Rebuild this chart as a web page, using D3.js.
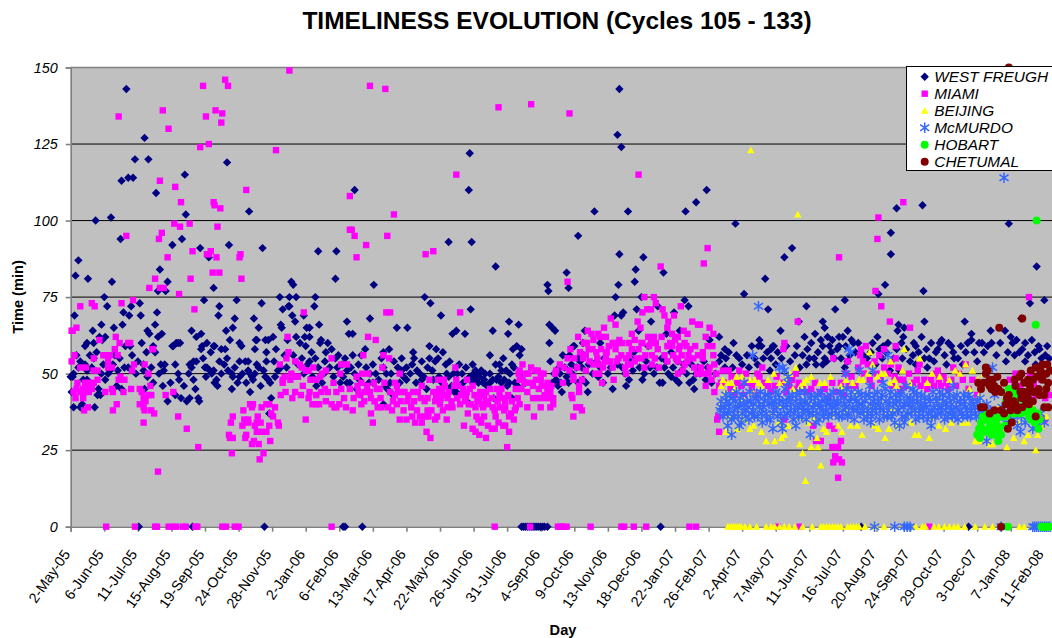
<!DOCTYPE html>
<html><head><meta charset="utf-8">
<script src="https://d3js.org/d3.v7.min.js"></script>
<style>html,body{margin:0;padding:0;background:#fff;overflow:hidden}svg{display:block}text{font-family:"Liberation Sans",Arial,sans-serif}</style>
</head><body><svg id="c" width="1052" height="638"></svg>
<script>
// [days since 2-May-05, minutes]
const westFreugh=[[58,143],[77,127],[67,120],[81,120],[53,113],[60,114],[65,114],[89,109],[119,115],[163,119],[120,102],[186,103],[26,100],[42,101],[52,94],[116,94],[106,92],[165,92],[135,91],[200,91],[144,88],[258,90],[277,90],[8,87],[5,82],[18,81],[93,84],[101,80],[43,80],[276,81],[230,80],[232,79],[149,78],[91,77],[99,77],[35,75],[218,75],[228,75],[235,75],[255,75],[38,72],[63,72],[72,73],[139,74],[173,74],[199,73],[155,72],[221,71],[227,72],[228,72],[254,72],[4,69],[55,70],[61,69],[73,69],[90,70],[154,69],[171,68],[191,68],[231,69],[234,67],[243,69],[32,66],[45,65],[54,66],[88,66],[169,65],[196,65],[219,66],[220,65],[246,65],[249,65],[259,66],[23,64],[80,64],[82,63],[95,63],[91,62],[126,64],[136,63],[131,62],[162,64],[288,67],
[6,56],[15,59],[17,60],[24,60],[10,54],[15,53],[17,51],[22,52],[0,49],[2,49],[1,44],[3,39],[10,39],[12,40],[25,39],[29,45],[28,43],[31,43],[13,48],[17,48],[24,55],[34,53],[39,50],[41,51],[46,56],[51,55],[49,51],[56,52],[64,56],[57,59],[62,59],[74,60],[79,57],[76,53],[76,51],[84,52],[86,59],[88,57],[94,53],[98,53],[97,51],[96,46],[77,45],[101,41],[109,43],[115,42],[121,41],[124,42],[134,41],[133,42],[130,45],[128,48],[123,50],[113,48],[112,50],[109,53],[106,59],[112,60],[124,53],[128,54],[131,54],[136,58],[142,60],[146,57],[149,59],[141,49],[142,52],[145,51],[149,51],[150,47],[153,46],[157,50],[160,53],[157,58],[161,58],[166,61],[164,51],[168,50],[169,49],[168,45],[176,54],[176,49],[178,59],[182,54],[185,54],[187,44],[185,51],[187,50],[189,49],[190,48],[194,53],[192,58],[201,51],[198,46],[208,47],[204,54],[204,57],[212,54],[214,58],[209,42],[207,37],[216,51],[223,56],[232,56],[239,60],[241,55],[245,59],[249,54],[251,57],[255,55],[260,60],[266,57],[265,54],[256,46],[262,47],[268,60],[274,49],[279,56],[281,47],[288,47],[288,51],[284,49],[272,58],[276,55],
[30,62],[36,62],[33,61],[107,59],[110,60],[114,60],[137,59],[150,59],[176,60],[193,61],[194,61],[203,61],[206,61],[211,62],[226,61],[235,62],[244,62],[249,62],[261,61],[290,63],
[572,143],[570,128],[574,124],[416,122],[415,110],[296,110],[546,103],[581,103],[641,103],[652,106],[529,95],[394,93],[418,93],[572,89],[597,88],[589,84],[517,83],[618,83],[443,85],[316,79],[497,79],[498,77],[519,78],[571,79],[588,80],[369,75],[568,75],[595,75],[640,74],[644,72],[375,73],[386,69],[417,71],[312,68],[457,67],[467,66],[340,65],[351,65],[567,69],[576,70],[574,69],[590,71],[605,67],[612,72],[629,70],[499,66],[502,65],[505,64],[402,64],[398,63],[411,63],[440,64],[456,63],[294,63],[536,64],[592,64],[621,63],[635,64],[499,60],[524,59],[534,60],[602,59],[307,58],[332,58],[374,59],[465,59],
[294,56],[315,53],[326,57],[345,55],[357,57],[358,55],[350,52],[345,51],[366,54],[381,58],[388,57],[383,55],[374,55],[395,54],[392,50],[408,50],[419,53],[422,51],[426,49],[432,50],[437,56],[447,53],[451,55],[454,51],[462,52],[430,47],[420,50],[421,48],[449,47],[444,48],[437,47],[461,58],[470,58],[468,56],[457,47],[460,42],[441,42],[413,41],[402,44],[371,45],[336,43],[326,40],[329,50],[334,50],[326,52],[312,50],[301,48],[291,47],[298,45],[330,45],[315,47],[343,47],[360,47],[366,48],[378,48],[395,45],[400,44],[399,50],[500,54],[513,56],[520,56],[522,53],[529,55],[531,54],[504,50],[506,48],[508,46],[512,44],[517,49],[529,47],[537,47],[539,44],[534,48],[525,59],[510,50],[552,60],[550,49],[555,47],[565,45],[579,46],[586,51],[598,50],[608,50],[617,47],[626,49],[637,51],[645,47],[650,45],[649,48],[626,57],[621,54],[633,54],[654,52],
[663,110],[693,99],[702,76],[724,81],[744,88],[752,91],[727,71],[767,72],[797,71],[807,74],[759,67],[784,67],[786,65],[861,104],[888,105],[855,96],[855,89],[849,79],[889,77],[842,76],[863,66],[869,65],[890,67],[862,64],[932,67],[978,99],[1007,85],[1000,73],[1015,74],[991,68],[676,62],[718,61],[740,64],[765,62],[776,63],[789,62],[794,61],[801,62],[805,62],[810,64],[814,61],[816,60],[836,60],[868,62],[908,61],[906,60],[939,63],[939,61],[950,60],[960,60],[959,64],[974,64],[980,62],[986,61],[982,60],[995,60],[1009,59],[1018,59],[928,59],[666,61],[682,58],[720,59],[732,59],[784,59],[791,59],[847,59],[892,58],
[717,59],[730,58],[733,59],[694,56],[683,55],[676,54],[705,56],[682,52],[662,48],[668,47],[690,52],[767,53],[784,53],[788,54],[760,52],[770,55],[777,53],[735,53],[730,55],[713,55],[793,57],[801,59],[810,54],[843,58],[839,53],[808,59],[867,55],[878,56],[881,59],[895,55],[902,57],[918,59],[933,57],[921,55],[947,60],[975,54],[995,54],[1005,57],[1010,58],[1006,53],[989,57],[881,53],[893,52],[864,51],[854,51],[913,53],
[3,50],[8,52],[20,56],[27,57],[32,50],[36,48],[44,53],[48,46],[53,45],[60,52],[68,50],[70,54],[80,49],[86,47],[92,50],[104,47],[118,46],[126,52],[138,55],[140,52],[147,50],[152,48],[155,54],[163,55],[171,52],[174,47],[179,50],[183,47],[192,50],[196,52],[203,49],[206,48],[213,49],[219,52],[225,52],[237,53],[243,50],[247,53],[252,49],[258,52],[264,50],[270,52],[278,52],[283,53],[286,55],[292,52],[296,50],[300,53],[303,56],[308,52],[311,47],[318,50],[321,48],[324,55],[328,46],[333,47],[337,54],[341,52],[347,49],[350,48],[354,50],[356,53],[361,51],[364,50],[368,49],[372,52],[377,51],[380,54],[384,49],[387,47],[391,53],[394,49],[397,46],[403,50],[405,53],[409,47],[412,52],[416,49],[419,47],[423,50],[425,47],[428,51],[431,48],[434,46],[437,50],[440,48],[443,53],[446,49],[449,51],[452,48],[455,46],[458,50],[460,53],[463,47],[466,46],[470,50],[474,47],[502,47],[509,52],[511,47],[515,52],[519,47],[523,50],[527,52],[533,52],[535,56],[540,53],[544,50],[548,54],[552,52],[556,55],[560,50],[563,52],[570,53],[575,52],[578,50],[582,48],[584,55],[587,57],[593,52],[596,48],[600,54],[604,52],[611,52],[614,47],[616,55],[619,52],[623,50],[628,52],[631,48],[634,47],[639,53],[642,50],[647,53],[652,50],[656,50],[660,54],[664,52],[672,50],[678,56],[686,57],[691,60],[697,55],[700,53],[707,52],[710,59],[716,53],[722,55],[726,57],[729,51],[737,57],[741,55],[746,59],[750,54],[755,56],[757,59],[763,56],[768,58],[772,60],[775,55],[779,57],[782,61],[786,55],[796,55],[799,58],[803,55],[807,52],[812,56],[818,57],[821,60],[826,56],[830,55],[834,57],[841,62],[846,55],[850,57],[852,60],[858,55],[861,58],[866,60],[871,58],[875,54],[879,60],[884,57],[887,62],[890,55],[897,60],[900,54],[904,58],[911,56],[915,60],[920,57],[925,55],[930,53],[935,60],[942,57],[945,54],[952,57],[956,59],[965,56],[969,60],[977,57],[984,56],[992,58],[998,56],[1002,61],[1012,55],[1016,56],[1020,55],
[71,0],[202,0],[127,0],[284,0],[286,0],[304,0],[470,0],[472,0],[474,0],[476,0],[478,0],[480,0],[482,0],[484,0],[486,0],[488,0],[490,0],[492,0],[494,0],[497,0],[615,0],[824,0],[936,0]];
const miami=[[50,134],[96,136],[102,130],[138,144],[141,134],[144,125],[135,124],[161,146],[164,144],[151,136],[158,135],[157,132],[228,149],[214,123],[93,113],[109,111],[115,106],[149,106],[150,105],[156,104],[183,110],[291,108],[291,97],[108,99],[114,98],[124,99],[153,98],[58,95],[95,96],[92,94],[127,90],[146,90],[142,89],[144,89],[101,88],[152,88],[176,88],[177,89],[125,81],[88,81],[148,83],[155,83],[178,81],[82,78],[93,78],[97,78],[113,76],[129,71],[65,74],[10,72],[22,73],[25,72],[53,73],[243,70],[1,64],[2,64],[6,65],[30,61],[47,62],[51,60],[60,60],[62,60],[46,58],[86,58],[226,62],
[1,54],[4,56],[10,52],[16,52],[24,51],[28,51],[24,55],[34,56],[37,56],[41,56],[39,54],[39,52],[43,52],[49,56],[66,53],[64,51],[52,49],[56,48],[50,48],[28,48],[7,47],[15,47],[19,47],[24,47],[6,45],[13,45],[18,45],[22,45],[3,44],[10,44],[15,44],[19,44],[5,42],[13,42],[36,44],[43,45],[44,44],[55,44],[63,45],[72,45],[74,44],[76,42],[83,46],[81,50],[77,53],[85,58],[81,43],[84,43],[78,41],[72,40],[48,40],[18,39],[14,38],[44,38],[76,39],[77,38],[84,38],[87,37],[76,34],[99,43],[107,44],[112,36],[121,32],[133,26],[91,18],
[165,30],[166,29],[169,29],[168,24],[167,34],[169,36],[180,38],[179,33],[182,29],[183,30],[181,35],[185,35],[185,34],[187,40],[190,40],[189,39],[192,33],[195,36],[194,31],[198,34],[194,34],[189,27],[191,28],[196,27],[197,22],[201,24],[199,39],[204,40],[207,40],[199,31],[204,31],[207,33],[208,28],[209,37],[211,36],[213,39],[216,34],[217,33],[219,43],[224,44],[221,47],[221,48],[223,49],[218,53],[225,55],[227,57],[229,48],[230,50],[234,54],[235,49],[237,49],[239,53],[241,52],[231,42],[234,44],[240,43],[242,46],[245,51],[248,51],[245,35],[248,42],[249,44],[250,48],[253,52],[252,40],[256,40],[259,40],[256,43],[256,48],[260,49],[262,50],[266,51],[261,44],[265,45],[268,44],[266,41],[272,55],[274,47],[281,50],[282,53],[288,53],[272,40],[277,39],[280,40],[275,39],[277,44],[282,45],[285,42],[287,39],[291,45],
[312,144],[328,143],[446,137],[480,138],[520,135],[402,115],[592,115],[337,102],[293,97],[296,95],[308,92],[330,95],[298,88],[370,89],[378,90],[518,80],[615,85],[329,70],[333,70],[406,70],[310,62],[318,61],
[598,75],[608,75],[610,73],[617,71],[619,69],[623,67],[622,65],[636,72],[629,69],[648,67],[654,66],[639,64],[643,63],[633,62],[627,63],[630,61],[596,70],[601,71],[605,71],[563,68],[568,66],[591,67],[594,65],[556,65],[585,63],[558,62],[588,61],[572,61],[550,63],[552,62],[539,64],[543,63],[529,62],[545,61],[535,60],[538,60],[561,59],[565,60],[570,60],[582,60],[596,60],[602,62],[608,62],[605,60],[610,60],[622,59],[627,59],[635,59],[642,59],[651,59],
[294,38],[303,40],[313,37],[315,34],[317,41],[320,39],[324,39],[331,39],[335,38],[340,40],[343,35],[350,35],[356,36],[359,34],[364,36],[366,34],[369,36],[373,36],[371,31],[375,29],[380,35],[382,36],[392,35],[376,38],[380,41],[385,40],[388,38],[393,39],[398,39],[410,33],[419,32],[422,31],[426,30],[433,29],[423,36],[425,35],[431,36],[428,34],[435,33],[439,32],[442,32],[443,36],[446,34],[451,33],[453,33],[457,31],[455,26],[430,39],[440,39],[447,39],[453,39],[457,36],[459,37],[463,38],[464,39],[468,40],[476,39],[483,36],[490,39],[500,39],[503,40],[487,42],[493,42],[497,44],[500,44],[496,46],[498,42],[503,42],[482,46],
[300,44],[307,44],[312,44],[316,47],[317,41],[322,45],[303,47],[304,50],[310,50],[298,49],[305,56],[325,52],[326,56],[332,55],[338,47],[340,46],[343,50],[338,43],[345,44],[348,44],[352,43],[357,44],[362,44],[366,46],[372,42],[374,48],[383,48],[389,48],[387,44],[392,43],[393,42],[402,48],[401,52],[404,46],[413,48],[407,43],[413,44],[416,45],[421,43],[427,44],[437,45],[444,45],[433,44],[411,41],[417,40],[414,37],[424,41],[433,41],[447,43],[450,42],[453,41],[464,45],[467,50],[471,53],[468,51],[474,50],[477,50],[480,52],[484,51],[487,51],[490,50],[493,50],[490,48],[468,48],[471,48],
[506,51],[513,47],[520,51],[524,49],[524,48],[530,46],[533,48],[530,44],[522,43],[523,42],[527,39],[531,39],[533,38],[524,36],[537,51],[554,47],[566,48],[579,50],[536,60],[540,58],[545,53],[548,57],[551,50],[551,53],[557,54],[560,54],[559,57],[567,60],[569,54],[574,56],[579,55],[581,53],[584,53],[590,55],[598,52],[595,55],[606,53],[613,52],[623,59],[633,50],[638,51],[644,56],[649,55],[654,56],[633,54],[640,53],
[868,106],[842,101],[841,94],[801,88],[839,77],[845,72],[854,67],[875,65],[758,67],[999,75],[664,91],[660,86],[656,66],[666,65],[670,63],[662,62],[664,59],[669,59],[744,60],[743,58],[829,59],[860,59],[824,58],[848,58],
[670,56],[659,57],[659,55],[671,53],[666,52],[659,50],[680,51],[686,51],[697,51],[721,52],[716,50],[689,49],[704,50],[678,47],[671,44],[680,47],[711,47],[734,46],[727,46],[756,50],[749,46],[675,36],[674,35],[676,31],[795,55],[885,53],[883,51],[860,55],[855,53],[823,56],[810,54],[826,54],[838,54],[843,56],[808,50],[833,48],[864,48],[865,45],[904,51],[901,50],[920,52],[913,47],[907,46],[933,53],[936,45],[979,48],[984,47],[1000,50],[1006,43],[1010,43],[1015,35],[1020,43],[1004,47],
[794,26],[797,26],[800,26],[797,23],[801,22],[795,21],[804,21],[800,16],[777,28],[782,28],[803,28],[796,32],[791,33],[774,33],[744,35],
[295,42],[299,46],[302,43],[306,41],[309,46],[313,42],[319,45],[323,42],[327,47],[333,44],[336,41],[341,44],[344,41],[347,38],[351,41],[355,39],[358,41],[361,38],[365,42],[369,41],[372,38],[378,44],[381,43],[384,45],[386,42],[390,46],[394,44],[397,41],[400,46],[403,42],[406,40],[409,45],[412,42],[415,40],[419,46],[422,39],[426,42],[429,40],[431,43],[435,40],[439,42],[442,38],[445,41],[449,45],[452,38],[456,43],[460,41],[462,35],[466,42],[470,45],[473,47],[476,44],[479,47],[482,42],[485,48],[488,45],[491,46],[494,43],[497,47],[501,46],
[505,50],[510,53],[514,52],[518,55],[521,58],[525,55],[528,52],[531,57],[534,55],[537,56],[541,54],[544,58],[547,50],[549,55],[553,58],[555,52],[558,56],[562,54],[565,52],[568,58],[571,55],[575,60],[578,52],[582,56],[585,58],[588,54],[592,58],[595,60],[599,56],[603,59],[606,56],[609,55],[612,58],[616,62],[619,56],[622,54],[625,60],[628,56],[631,55],[634,58],[637,56],[640,60],[643,54],[646,58],[650,52],[653,50],[657,52],
[662,46],[665,50],[668,48],[673,50],[676,46],[683,47],[688,45],[692,43],[695,47],[699,46],[702,43],[706,47],[710,45],[714,43],[718,49],[723,47],[730,44],[736,49],[741,47],[746,44],[752,48],[755,45],[759,47],[763,45],[768,44],[772,45],[776,47],[781,44],[786,45],[790,42],[794,47],[798,44],[803,47],[806,43],[811,46],[814,49],[818,46],[821,52],[827,50],[831,53],[835,46],[840,50],[844,48],[848,52],[852,50],[856,46],[859,49],[863,52],[868,48],[871,46],[874,50],[878,47],[882,48],[886,46],[890,48],[893,45],[897,48],[900,46],[905,48],[910,49],[915,45],[918,48],[923,46],[926,50],[930,48],[940,48],[945,43],[985,50],[990,46],[995,44],[1002,45],[1012,48],[1016,42],
[37,0],[67,0],[88,0],[90,0],[102,0],[107,0],[110,0],[117,0],[120,0],[130,0],[132,0],[158,0],[162,0],[171,0],[175,0],[272,0],[442,0],[479,0],[508,0],[511,0],[513,0],[517,0],[542,0],[574,0],[577,0],[587,0],[600,0],[645,0],[652,0],[737,0],[760,0],[895,0]];
const beijing=[[709,123],[758,102],[869,58],[833,57],[855,54],[885,55],[933,53],[836,53],[680,48],[685,47],[694,49],[708,48],[713,48],[727,48],[739,47],[756,52],[767,48],[781,47],[808,48],[822,48],[826,48],[845,50],[849,50],[854,47],[867,51],[898,50],[906,49],[927,50],[940,51],[937,45],[683,44],[692,45],[720,46],[711,44],[753,45],[761,46],[817,43],[861,46],[947,43],[678,41],[683,31],[708,32],[720,31],[725,28],[734,28],[741,29],[744,30],[760,27],[763,24],[772,26],[779,26],[778,29],[782,20],[766,15],[788,31],[804,31],[813,33],[825,30],[842,32],[849,29],[853,32],[880,30],[884,30],[895,29],[912,32],[930,34],[935,34],[943,28],[947,28],[961,27],[976,26],[983,29],[994,28],[1006,25],[1008,30],[998,30],[687,36],[697,37],[703,35],[715,36],[730,37],[760,36],[775,36],[795,37],[808,38],[829,36],[850,37],[871,37],[898,36],[923,37],[951,39],[968,39],[1003,39],[687,43],[701,42],[716,39],[739,40],[774,40],[805,39],[836,40],[857,39],[878,38],[906,40],[940,38],
[678,46],[689,47],[700,49],[717,47],[733,50],[745,48],[750,50],[764,47],[772,49],[786,47],[792,49],[803,46],[815,47],[831,50],[841,49],[859,48],[875,47],[893,47],[916,48],[922,51],[946,48],[952,50],[695,32],[712,33],[738,34],[748,33],[769,34],[785,32],[800,33],[820,33],[838,33],[862,33],[876,34],[905,33],[918,34],[958,27],[966,29],[1012,33],[988,34],[1017,36],
[685,0],[687,0],[689,0],[691,0],[693,0],[695,0],[697,0],[699,0],[703,0],[708,0],[715,0],[725,0],[730,0],[734,0],[739,0],[744,0],[749,0],[755,0],[763,0],[773,0],[782,0],[785,0],[788,0],[791,0],[794,0],[797,0],[800,0],[803,0],[810,0],[813,0],[816,0],[819,0],[822,0],[828,0],[839,0],[848,0],[881,0],[888,0],[891,0],[900,0],[905,0],[911,0],[916,0],[921,0],[925,0],[932,0],[943,0],[953,0],[961,0],[974,0],[989,0],[994,0],[1003,0]];
const mcmurdo=[[717,72],[973,114],[811,58],[711,56],[813,57],[852,56],[744,51],[742,52],[739,52],[748,49],[822,51],[836,51],[808,50],[961,52],[702,47],[748,47],[847,47],[878,45],[920,46],[689,30],[771,30],[955,28],[742,32],[864,33],[869,34],[897,33],[834,34],[990,31],[1003,32],[732,32],[756,33],[697,33],[685,33],[780,35],
[677,38],[678,41],[680,36],[682,39],[683,43],[685,37],[687,40],[689,35],[690,42],[692,38],[694,44],[696,36],[697,40],[699,34],[701,43],[703,38],[705,41],[707,35],[708,44],[710,37],[712,40],[714,42],[716,36],[718,39],[719,44],[721,34],[723,41],[725,37],[727,43],[729,35],[731,40],[733,38],[735,44],[737,36],[739,41],[741,34],[743,39],[745,45],[747,37],[749,42],[751,40],[753,35],[755,38],[757,43],[759,36],[761,41],[763,39],[765,44],[767,35],[769,38],[771,42],[773,37],[775,40],[777,34],[779,43],[781,39],[783,41],[785,36],[787,38],[789,42],[791,40],[793,37],[795,44],[797,39],[799,41],[801,36],[803,43],[805,38],[807,40],[809,45],[811,37],[813,42],[815,39],[817,35],[819,41],[821,44],[823,37],[825,40],[827,35],[829,43],[831,38],[833,46],[835,36],[837,41],[839,39],[841,44],[843,35],[845,42],[847,38],[849,45],[851,36],[853,40],[855,44],[857,37],[859,34],[861,41],[863,38],[865,43],[867,36],[869,40],[871,46],[873,37],[875,42],[877,39],[879,44],[881,35],[883,41],[885,38],[887,43],[889,36],[891,40],[893,35],[895,42],[897,38],[899,44],[901,36],[903,41],[905,39],[907,37],[909,43],[911,35],[913,40],[915,44],[917,38],[919,36],[921,42],[923,39],[925,35],[927,41],[929,37],[931,43],[933,39],[935,36],[937,42],[939,38],[941,40],[943,37],[945,41],[947,38],[951,36],[955,40],[959,38],[963,43],[967,36],[971,39],[975,34],[979,37],[983,35],[987,33],[991,36],[995,34],[999,38],[1003,35],[1007,33],[1011,37],[1015,34],
[678,39],[681,37],[684,41],[686,38],[688,43],[691,36],[693,41],[695,39],[698,42],[700,37],[702,40],[704,36],[706,39],[709,41],[711,38],[713,36],[715,43],[717,41],[720,37],[722,39],[724,43],[726,35],[728,40],[730,42],[732,37],[734,41],[736,39],[738,43],[740,37],[742,41],[744,36],[746,40],[748,42],[750,38],[752,43],[754,37],[756,41],[758,39],[760,44],[762,36],[764,38],[766,41],[768,40],[770,37],[772,43],[774,39],[776,42],[778,37],[780,40],[782,44],[784,38],[786,42],[788,40],[790,36],[792,43],[794,39],[796,41],[798,37],[800,40],[802,44],[804,36],[806,42],[808,39],[810,36],[812,41],[814,44],[816,38],[818,42],[820,38],[822,40],[824,43],[826,38],[828,41],[830,36],[832,43],[834,40],[836,38],[838,43],[840,37],[842,41],[844,39],[846,43],[848,36],[850,41],[852,38],[854,42],[856,36],[858,40],[860,43],[862,38],[864,41],[866,44],[868,39],[870,36],[872,42],[874,40],[876,37],[878,41],[880,38],[882,43],[884,36],[886,40],[888,38],[890,42],[892,39],[894,37],[896,41],[898,36],[900,39],[902,42],[904,37],[906,44],[908,39],[910,41],[912,38],[914,36],[916,42],[918,40],[920,38],[922,36],[924,43],[926,38],[928,40],[930,36],[932,41],[934,38],[936,43],[938,36],[940,41],[942,39],[944,36],[948,42],[953,38],
[838,0],[859,0],[869,0],[872,0],[875,0],[970,0],[1003,0],[1005,0],[1007,0],[1009,0],[1011,0],[1013,0],[1015,0],[1017,0],[1019,0],[1021,0]];
const hobart=[[1007,100],[1006,66],[978,45],[989,42],[994,41],[978,40],[972,36],[998,37],[1001,35],[1010,35],[1009,32],[986,43],[982,41],[998,42],[947,32],[949,34],[952,35],[954,36],[958,34],[961,34],[957,32],[961,32],[964,30],[967,28],[970,30],[965,35],[950,32],[960,30],[945,30],[948,29],[951,36],[953,31],[956,37],[959,33],[962,36],[963,32],[966,33],[968,31],[969,36],[974,33],[975,36],[980,38],[983,37],[987,39],[990,37],[993,38],[996,39],[999,36],[1003,38],[1005,34],[1008,37],[984,44],[992,44],[975,41],[977,0],[1012,0],[1014,0],[1016,0],[1018,0],[1020,0]];
const chetumal=[[978,150],[968,65],[992,68],[954,52],[954,50],[958,48],[961,48],[966,49],[973,47],[946,47],[949,45],[958,46],[963,46],[967,45],[949,39],[952,39],[958,37],[963,38],[970,38],[973,37],[975,40],[980,40],[980,38],[985,40],[992,39],[999,40],[981,34],[977,32],[1006,36],[1015,39],[1019,39],[989,49],[991,50],[984,48],[985,46],[994,47],[998,48],[1003,48],[990,44],[998,44],[978,43],[1009,45],[1010,43],[1017,45],[1001,51],[1006,52],[1011,51],[1013,53],[1018,53],[1011,50],[1017,50],[998,42],[991,42],[952,47],[956,51],[960,45],[964,44],[970,44],[976,42],[983,41],[987,38],[994,44],[996,41],[1000,46],[1004,44],[1007,49],[1013,48],[1015,43],[1019,47],[1021,51],[1003,41],[970,0]];
const tickLabels=["2-May-05","6-Jun-05","11-Jul-05","15-Aug-05","19-Sep-05","24-Oct-05","28-Nov-05","2-Jan-06","6-Feb-06","13-Mar-06","17-Apr-06","22-May-06","26-Jun-06","31-Jul-06","4-Sep-06","9-Oct-06","13-Nov-06","18-Dec-06","22-Jan-07","26-Feb-07","2-Apr-07","7-May-07","11-Jun-07","16-Jul-07","20-Aug-07","24-Sep-07","29-Oct-07","3-Dec-07","7-Jan-08","11-Feb-08"];
const yTicks=[0,25,50,75,100,125,150];
const tickStep=35, maxDay=1023;

const diamond={draw(c){const r=4.2;c.moveTo(0,-r);c.lineTo(r,0);c.lineTo(0,r);c.lineTo(-r,0);c.closePath();}};
const square={draw(c){const r=3.2;c.rect(-r,-r,2*r,2*r);}};
const triangle={draw(c){const r=3.7;c.moveTo(0,-r);c.lineTo(r,r*.85);c.lineTo(-r,r*.85);c.closePath();}};
const star={draw(c){const r=5.2;const d=r*.87;c.moveTo(0,-r);c.lineTo(0,r);c.moveTo(-d,-r*.6);c.lineTo(d,r*.6);c.moveTo(-d,r*.6);c.lineTo(d,-r*.6);}};
const disc={draw(c){c.moveTo(4,0);c.arc(0,0,4,0,2*Math.PI);}};
const series=[
 {name:"WEST FREUGH",data:westFreugh,type:diamond,fill:"#000080"},
 {name:"MIAMI",data:miami,type:square,fill:"#FF00FF"},
 {name:"BEIJING",data:beijing,type:triangle,fill:"#FFFF00"},
 {name:"McMURDO",data:mcmurdo,type:star,stroke:"#3366FF"},
 {name:"HOBART",data:hobart,type:disc,fill:"#00FF00"},
 {name:"CHETUMAL",data:chetumal,type:disc,fill:"#800000"}];

const svg=d3.select("#c");
const x=d3.scaleLinear().domain([0,maxDay]).range([70.7,1052]);
const y=d3.scaleLinear().domain([0,150]).range([526.7,67.5]);
svg.append("rect").attr("x",x(0)).attr("y",y(150)).attr("width",x(maxDay)-x(0)).attr("height",y(0)-y(150)).attr("fill","#C0C0C0");

const yAxis=d3.axisLeft(y).tickValues(yTicks).tickSize(5).tickPadding(8);
const xAxis=d3.axisBottom(x).tickValues(tickLabels.map((_,i)=>i*tickStep)).tickFormat((_,i)=>tickLabels[i]).tickSize(5);

svg.append("g").selectAll("line").data(yTicks.filter(v=>v>0&&v<150)).join("line")
 .attr("x1",x(0)).attr("x2",x(maxDay)).attr("y1",d=>y(d)).attr("y2",d=>y(d)).attr("stroke","#000").attr("stroke-width",1);
svg.append("line").attr("x1",x(0)).attr("x2",x(maxDay)).attr("y1",y(150)).attr("y2",y(150)).attr("stroke","#808080").attr("stroke-width",1.5);

const gy=svg.append("g").attr("transform",`translate(${x(0)},0)`).call(yAxis);
gy.selectAll("path,line").attr("stroke","#808080").attr("stroke-width",1.6);
gy.selectAll("text").attr("font-size",14.4).attr("font-style","italic").attr("fill","#000").style("font-family",'"Liberation Sans"');
const gx=svg.append("g").attr("transform",`translate(0,${y(0)})`).call(xAxis);
gx.selectAll("path,line").attr("stroke","#808080").attr("stroke-width",1.6);
gx.selectAll("text").attr("font-size",14.4).attr("fill","#000").attr("text-anchor","end").attr("dy",0)
 .attr("transform","translate(-7,23) rotate(-55)").style("font-family",'"Liberation Sans"');

for(const s of series){
 svg.append("g").selectAll("path").data(s.data).join("path")
  .attr("d",d3.symbol().type(s.type))
  .attr("transform",d=>`translate(${x(d[0])},${y(d[1])})`)
  .attr("fill",s.fill||"none").attr("stroke",s.stroke||"none").attr("stroke-width",s.stroke?1.5:0);
}

svg.append("text").attr("x",557).attr("y",29).attr("text-anchor","middle").attr("font-size",24.5).attr("font-weight","bold").text("TIMELINESS EVOLUTION (Cycles 105 - 133)");
svg.append("text").attr("transform","translate(23,297) rotate(-90)").attr("text-anchor","middle").attr("font-size",14.6).attr("font-weight","bold").text("Time (min)");
svg.append("text").attr("x",563).attr("y",635).attr("text-anchor","middle").attr("font-size",14.6).attr("font-weight","bold").text("Day");

const lg=svg.append("g");
lg.append("rect").attr("x",906.5).attr("y",66.5).attr("width",150).attr("height",104).attr("fill","#fff").attr("stroke","#000").attr("stroke-width",1);
series.forEach((s,i)=>{
 const yy=76.7+i*17;
 lg.append("path").attr("d",d3.symbol().type(s.type)).attr("transform",`translate(924.7,${yy})`).attr("fill",s.fill||"none").attr("stroke",s.stroke||"none").attr("stroke-width",s.stroke?1.5:0);
 lg.append("text").attr("x",934.3).attr("y",yy+5).attr("font-size",15.4).attr("font-style","italic").text(s.name);
});
</script></body></html>
